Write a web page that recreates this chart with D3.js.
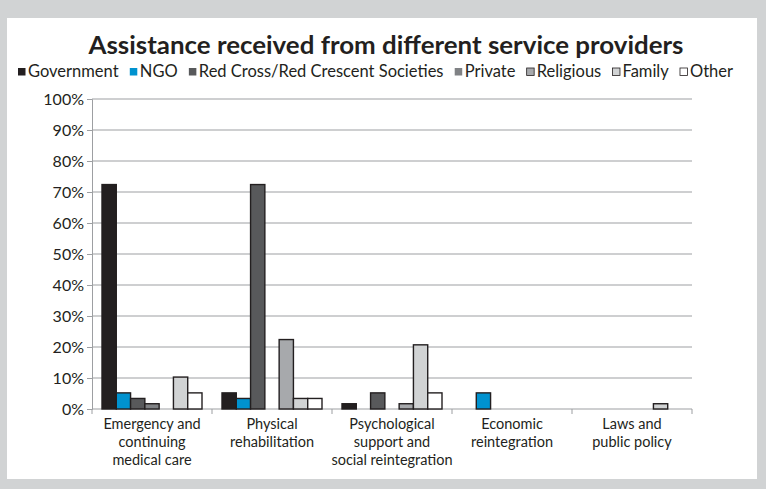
<!DOCTYPE html>
<html>
<head>
<meta charset="utf-8">
<script src="https://cdn.jsdelivr.net/npm/d3@7"></script>
<style>
  body { margin: 0; background: #d1d3d4; }
  svg { display: block; font-family: Lato, "Open Sans", sans-serif; }
</style>
</head>
<body>
<svg id="chart"></svg>
<script>
// data
let categories = [
    ['Emergency and', 'continuing', 'medical care'],
    ['Physical', 'rehabilitation'],
    ['Psychological', 'support and', 'social reintegration'],
    ['Economic', 'reintegration'],
    ['Laws and', 'public policy']
];
let series = ['Government', 'NGO', 'Red Cross/Red Crescent Societies', 'Private', 'Religious', 'Family', 'Other'];
let colors = ['#231f20', '#0092cf', '#58595b', '#808285', '#a7a9ac', '#d1d3d4', '#ffffff'];
// percent per category, one row per category, in series order
let values = [
    [72.4, 5.2, 3.4, 1.7, 0, 10.3, 5.2],
    [5.2, 3.4, 72.4, 0, 22.4, 3.4, 3.4],
    [1.7, 0, 5.2, 0, 1.7, 20.7, 5.2],
    [0, 5.2, 0, 0, 0, 0, 0],
    [0, 0, 0, 0, 0, 1.7, 0]
];
let yTicks = [0, 10, 20, 30, 40, 50, 60, 70, 80, 90, 100];

let svgWidth = 766;
let svgHeight = 489;

let svg = d3.select('#chart')
    .attr('width', svgWidth)
    .attr('height', svgHeight);

// white panel
svg.append('rect')
    .attr('x', 7).attr('y', 18)
    .attr('width', 750).attr('height', 461)
    .attr('fill', '#fff');

let plot = {left: 92, right: 692, top: 99, bottom: 409};

let x0 = d3.scaleBand()
    .domain(d3.range(categories.length))
    .range([plot.left, plot.right]);

let x1 = d3.scaleBand()
    .domain(series)
    .range([10, x0.bandwidth() - 10]);

let y = d3.scaleLinear()
    .domain([0, 100])
    .range([plot.bottom, plot.top]);

// gridlines
svg.append('g')
    .selectAll('line')
    .data(yTicks.slice(1))
    .join('line')
    .attr('x1', plot.left).attr('x2', plot.right)
    .attr('y1', d => y(d)).attr('y2', d => y(d))
    .attr('stroke', '#9d9fa2')
    .attr('stroke-width', 1);

// y axis
let yAxis = svg.append('g')
    .attr('transform', `translate(${plot.left},0)`)
    .call(d3.axisLeft(y).tickValues(yTicks).tickFormat(d => d + '%').tickSize(5).tickPadding(3));
yAxis.select('.domain').attr('stroke', '#9d9fa2');
yAxis.selectAll('.tick line').attr('stroke', '#9d9fa2');
yAxis.selectAll('.tick text')
    .attr('font-size', 16)
    .attr('font-family', 'Lato, sans-serif')
    .attr('fill', '#231f20');

// x axis
let xAxis = svg.append('g')
    .attr('transform', `translate(0,${plot.bottom})`);
xAxis.append('line')
    .attr('x1', plot.left).attr('x2', plot.right)
    .attr('stroke', '#9d9fa2');
xAxis.selectAll('.ctick')
    .data(d3.range(categories.length + 1))
    .join('line')
    .attr('class', 'ctick')
    .attr('x1', d => plot.left + d * x0.bandwidth())
    .attr('x2', d => plot.left + d * x0.bandwidth())
    .attr('y1', 0).attr('y2', 5)
    .attr('stroke', '#9d9fa2');

let labels = svg.append('g')
    .selectAll('text')
    .data(categories)
    .join('text')
    .attr('x', (d, i) => x0(i) + x0.bandwidth() / 2)
    .attr('y', plot.bottom + 20)
    .attr('text-anchor', 'middle')
    .attr('font-size', 14.5)
    .attr('fill', '#231f20');
labels.selectAll('tspan')
    .data(d => d)
    .join('tspan')
    .attr('x', function() { return this.parentNode.getAttribute('x'); })
    .attr('dy', (d, i) => i === 0 ? 0 : 18)
    .text(d => d);

// bars
let groups = svg.append('g')
    .selectAll('g')
    .data(values)
    .join('g')
    .attr('transform', (d, i) => `translate(${x0(i)},0)`);

groups.selectAll('rect')
    .data(d => d.map((v, j) => ({key: series[j], value: v, color: colors[j]})).filter(e => e.value > 0))
    .join('rect')
    .attr('x', d => x1(d.key))
    .attr('width', x1.bandwidth())
    .attr('y', d => y(d.value))
    .attr('height', d => y(0) - y(d.value))
    .attr('fill', d => d.color)
    .attr('stroke', '#231f20')
    .attr('stroke-width', 1.4);

// title
svg.append('text')
    .attr('x', 386)
    .attr('y', 54)
    .attr('text-anchor', 'middle')
    .attr('font-size', 25)
    .attr('font-weight', 'bold')
    .attr('fill', '#231f20')
    .attr('textLength', 595)
    .attr('lengthAdjust', 'spacingAndGlyphs')
    .text('Assistance received from different service providers');

// legend, spread to fill x 18..733
let legend = svg.append('g').attr('transform', 'translate(18,77)');
let legendTexts = series.map(s => legend.append('text')
    .attr('font-size', 16.5)
    .attr('fill', '#231f20')
    .text(s));
let textSum = d3.sum(legendTexts, t => t.node().getComputedTextLength());
let gap = (715 - textSum - series.length * 10) / (series.length - 1);
let lx = 0;
series.forEach((s, i) => {
    legend.append('rect')
        .attr('x', lx).attr('y', -9)
        .attr('width', 7.5).attr('height', 7.5)
        .attr('fill', colors[i])
        .attr('stroke', i > 3 ? '#231f20' : 'none')
        .attr('stroke-width', 0.8);
    legendTexts[i].attr('x', lx + 10);
    lx += 10 + legendTexts[i].node().getComputedTextLength() + gap;
});
</script>
</body>
</html>
